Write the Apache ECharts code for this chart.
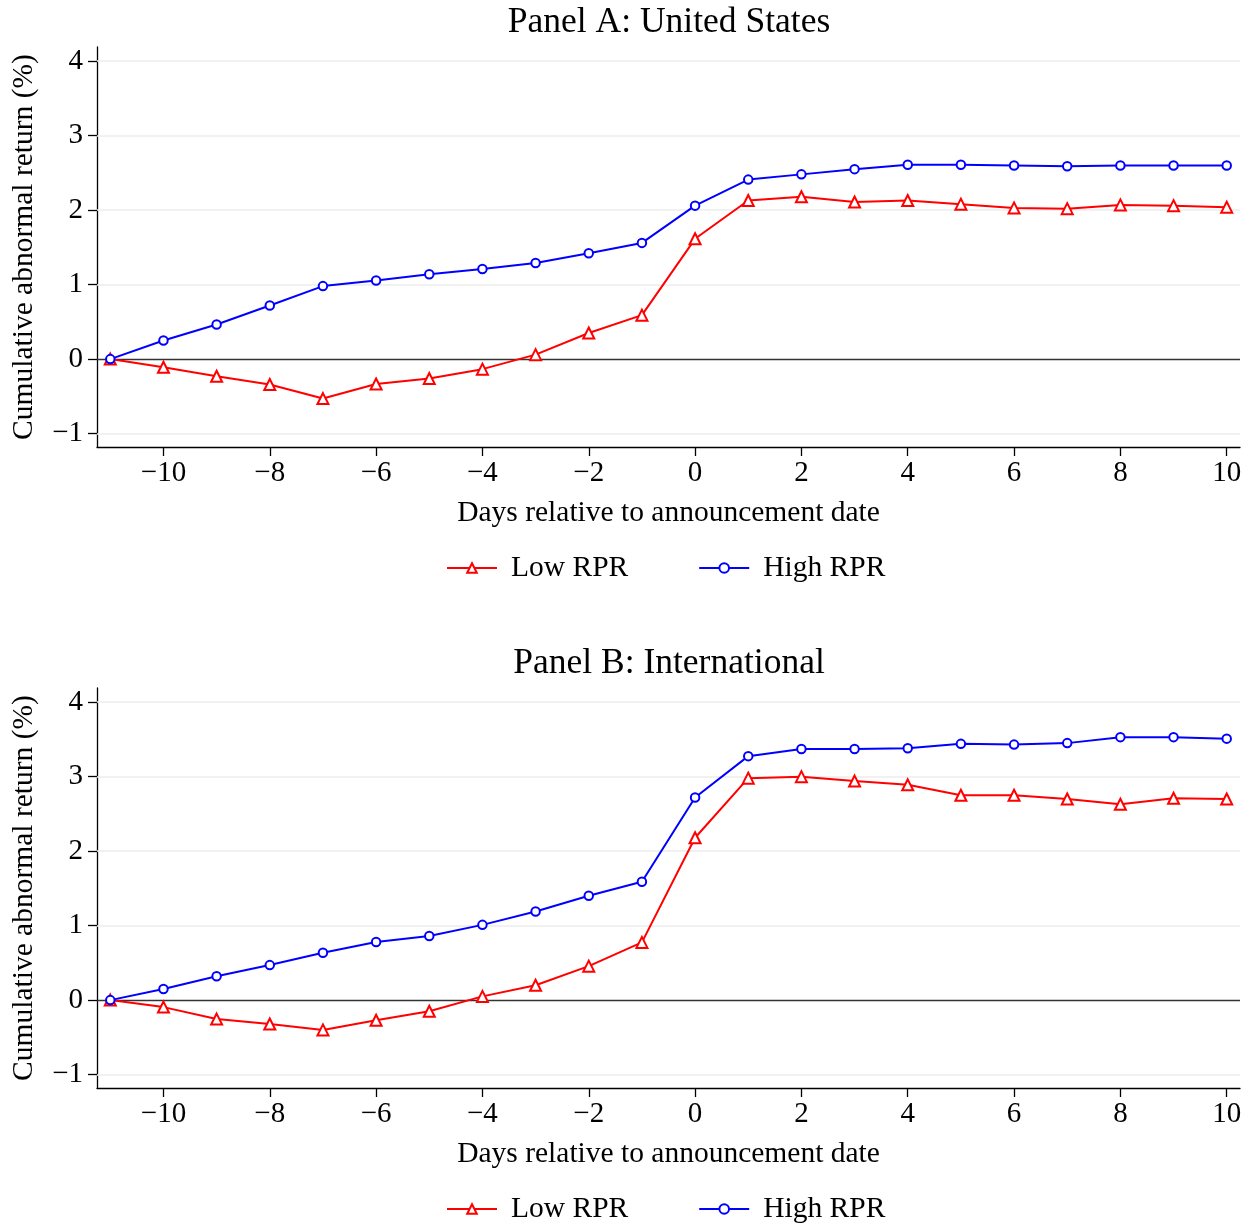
<!DOCTYPE html>
<html>
<head>
<meta charset="utf-8">
<script src="https://cdn.jsdelivr.net/npm/echarts@6/dist/echarts.min.js"></script>
<style>
html,body{margin:0;padding:0;background:#fff;}
#chart{width:1251px;height:1224px;}
</style>
</head>
<body>
<div id="chart"></div>
<script>
const days = [-11,-10,-9,-8,-7,-6,-5,-4,-3,-2,-1,0,1,2,3,4,5,6,7,8,9,10];
const usLow  = [0,-0.11,-0.23,-0.34,-0.53,-0.335,-0.26,-0.135,0.06,0.35,0.59,1.615,2.13,2.18,2.11,2.13,2.08,2.03,2.02,2.07,2.06,2.04];
const usHigh = [0,0.25,0.465,0.72,0.98,1.056,1.14,1.21,1.29,1.42,1.56,2.06,2.41,2.48,2.55,2.61,2.61,2.60,2.59,2.60,2.60,2.60];
const intLow  = [0,-0.094,-0.255,-0.32,-0.40,-0.27,-0.15,0.05,0.20,0.456,0.775,2.18,2.98,3.00,2.94,2.89,2.75,2.75,2.70,2.63,2.71,2.70];
const intHigh = [0,0.148,0.32,0.47,0.635,0.78,0.86,1.01,1.19,1.40,1.59,2.72,3.275,3.37,3.37,3.38,3.44,3.43,3.45,3.53,3.53,3.51];
const xTicks = [-10,-8,-6,-4,-2,0,2,4,6,8,10];
const yTicks = [-1,0,1,2,3,4];
const panelTitles = ['Panel A: United States','Panel B: International'];
const seriesNames = ['Low RPR','High RPR'];
const xTitle = 'Days relative to announcement date';
const yTitle = 'Cumulative abnormal return (%)';

const FONT = '"Liberation Serif", "Times New Roman", serif';
const RED = '#ff0000', BLUE = '#0000ff';
const pairs = (vals) => days.map((d,i)=>[d, vals[i]]);
const fmt = (v) => String(v).replace('-', '\u2212');

const panelTops = [47, 688];
const gridH = 400;

const option = {
  backgroundColor:'#fff',
  animation:false,
  title: panelTitles.map((t,i)=>({
    text:t, left:664, textAlign:'center', top: panelTops[i]-47,
    textStyle:{fontFamily:FONT, fontSize:35.5, fontWeight:'normal', color:'#000'}
  })),
  legend: panelTops.map((t,i)=>({
    data: seriesNames, top: t+gridH+101, left:441,
    itemWidth:50, itemHeight:12, itemGap:70,
    textStyle:{fontFamily:FONT, fontSize:29.5, color:'#000', padding:[0,0,0,9]}
  })),
  grid: panelTops.map(t=>({left:97, right:11, top:t, height:gridH, containLabel:false})),
  xAxis: panelTops.map((t,i)=>({
    type:'value', gridIndex:i, min:-11.25, max:10.25,
    name:xTitle, nameLocation:'middle', nameGap:51,
    nameTextStyle:{fontFamily:FONT, fontSize:29.5, color:'#000'},
    axisLine:{show:true, onZero:false, lineStyle:{color:'#000', width:1.3}},
    axisTick:{show:true, customValues:xTicks, length:9, lineStyle:{color:'#000', width:1.3}},
    axisLabel:{customValues:xTicks, formatter:fmt, margin:12, fontFamily:FONT, fontSize:29, color:'#000'},
    splitLine:{show:false}
  })),
  yAxis: panelTops.map((t,i)=>({
    type:'value', gridIndex:i, min:-1.18, max:4.19,
    name:yTitle, nameLocation:'middle', nameGap:58,
    nameTextStyle:{fontFamily:FONT, fontSize:29.5, color:'#000'},
    axisLine:{show:true, onZero:false, lineStyle:{color:'#000', width:1.3}},
    axisTick:{show:true, customValues:yTicks, length:9, lineStyle:{color:'#000', width:1.3}},
    axisLabel:{customValues:yTicks, formatter:fmt, margin:14, fontFamily:FONT, fontSize:29, color:'#000'},
    splitLine:{show:false}
  })),
  series: []
};

const panels = [[usLow, usHigh],[intLow, intHigh]];
panels.forEach((p,i)=>{
  option.series.push({
    type:'line', name:'_grid'+i, xAxisIndex:i, yAxisIndex:i, data:[], z:1, silent:true,
    markLine:{
      silent:true, symbol:'none', label:{show:false}, animation:false, z:1,
      data: yTicks.map(v=>({yAxis:v, lineStyle:{color: v===0 ? '#333' : '#ececec', width: v===0 ? 1.4 : 1.6, type:'solid'}}))
    }
  });
  option.series.push({
    type:'line', name:seriesNames[0], xAxisIndex:i, yAxisIndex:i, z:3,
    data:pairs(p[0]), symbol:'emptyTriangle', symbolSize:11,
    lineStyle:{color:RED, width:2}, itemStyle:{color:RED, borderColor:RED, borderWidth:1.7}
  });
  option.series.push({
    type:'line', name:seriesNames[1], xAxisIndex:i, yAxisIndex:i, z:3,
    data:pairs(p[1]), symbol:'emptyCircle', symbolSize:8.5,
    lineStyle:{color:BLUE, width:2}, itemStyle:{color:BLUE, borderColor:BLUE, borderWidth:1.7}
  });
});

const chart = echarts.init(document.getElementById('chart'), null, {renderer:'canvas'});
chart.setOption(option);
</script>
</body>
</html>
